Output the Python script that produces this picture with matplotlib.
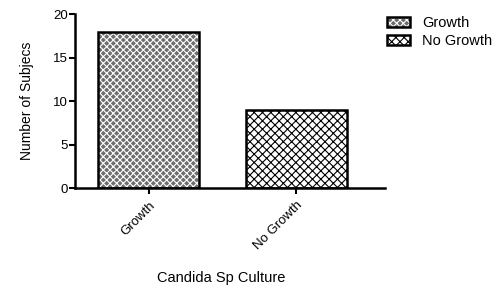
import matplotlib
matplotlib.use("Agg")
from matplotlib import pyplot as plt
from matplotlib.legend_handler import HandlerTuple

plt.rcParams['font.family'] = ['Liberation Sans', 'DejaVu Sans']
plt.rcParams['hatch.linewidth'] = 0.8

categories = ["Growth", "No Growth"]
counts = [18, 9]
faces = ["#6e6e6e", "#ffffff"]
hatches = ["xxxxx", "xxxx"]
hatch_colors = ["#ffffff", "#000000"]

fig = plt.figure(figsize=(5.02, 2.88), dpi=100)
ax = fig.add_axes((0.149, 0.347, 0.618, 0.604))

x = list(range(len(categories)))
handles = []
for i in x:
    fill = ax.bar(x[i], counts[i], width=0.68, facecolor=faces[i], edgecolor=hatch_colors[i],
                  hatch=hatches[i], linewidth=0)
    edge = ax.bar(x[i], counts[i], width=0.68, facecolor="none", edgecolor="black", linewidth=1.8)
    handles.append((fill, edge))

ax.set_xlim(-0.5, 1.6)
ax.set_ylim(0, 20)
ax.set_yticks([0, 5, 10, 15, 20])
ax.set_xticks(x)
ax.set_xticklabels(categories, rotation=45, ha="right", rotation_mode="anchor", fontsize=9.5)
ax.tick_params(axis="y", labelsize=9.5, length=4, width=1.5, pad=1)
ax.tick_params(axis="x", length=4, width=1.5, pad=4)
for s in ["top", "right"]:
    ax.spines[s].set_visible(False)
for s in ["left", "bottom"]:
    ax.spines[s].set_linewidth(1.8)

ax.set_ylabel("Number of Subjecs", fontsize=10, labelpad=14)
fig.text(0.44, 0.035, "Candida Sp Culture", fontsize=10.5, ha="center", va="center")

leg = fig.legend(handles, categories, loc="upper left", bbox_to_anchor=(0.771, 0.945),
                 frameon=False, fontsize=10.5, handlelength=1.6, handleheight=0.7,
                 handletextpad=0.8, labelspacing=0.3, borderpad=0, borderaxespad=0,
                 handler_map={tuple: HandlerTuple(ndivide=1, pad=0)})

fig.savefig("out.png", dpi=100)
